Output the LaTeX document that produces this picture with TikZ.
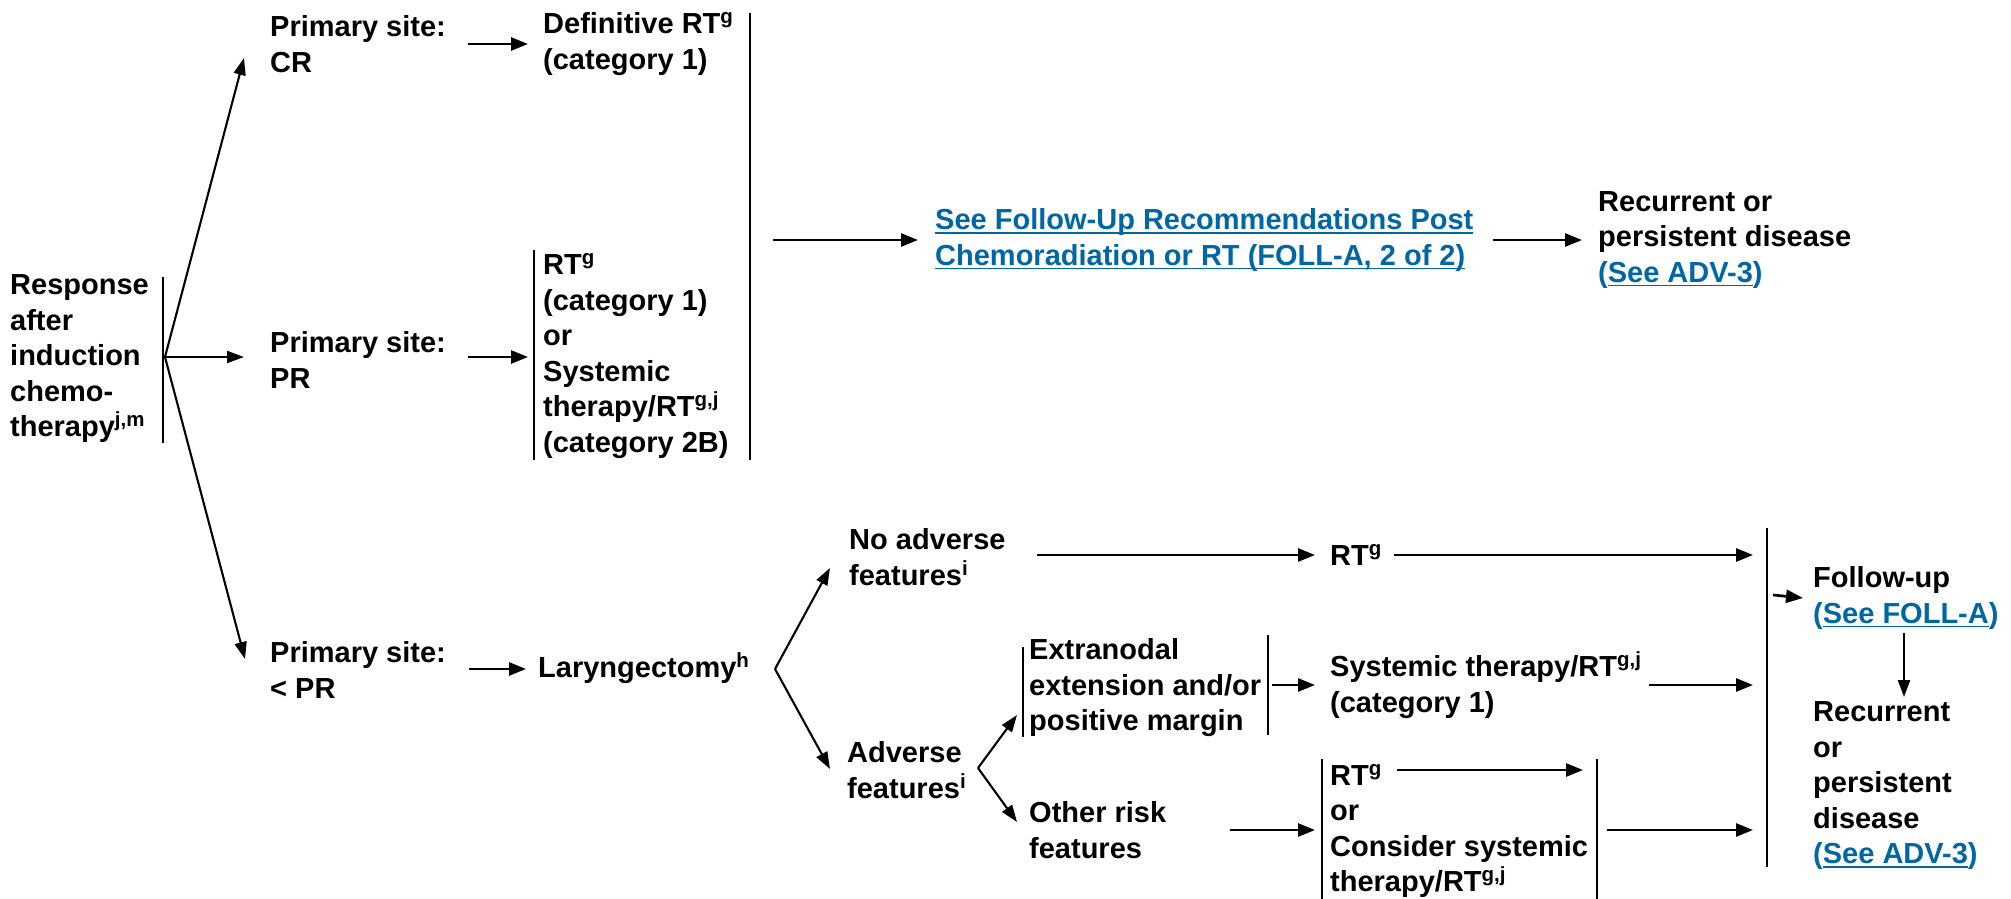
\documentclass[tikz,border=0pt]{standalone}
\usepackage{fontspec}
\setmainfont{Liberation Sans}
\usetikzlibrary{arrows.meta,calc}
\definecolor{linkblue}{RGB}{0,102,164}
% raised footnote letters
\newcommand\sps[1]{\raisebox{10pt}{\fontsize{20.5}{20.5}\selectfont #1}}
% underlined blue reference text
\newcommand\lnk[1]{{\color{linkblue}\setbox0\hbox{#1}\rlap{\rule[-4pt]{\wd0}{1.6pt}}\box0}}

\begin{document}
\begin{tikzpicture}[x=1pt,y=-1pt,
  txt/.style={anchor=west,align=left,inner sep=0pt,
    font=\bfseries\fontsize{29}{35.5}\selectfont},
  arr/.style={line width=2.7pt,-{Triangle[length=17pt,width=13pt]}},
  diag/.style={line width=2.1pt,-{Triangle[length=17pt,width=12pt]}},
  bar/.style={line width=2.4pt}]
\useasboundingbox (0,0) rectangle (2011,899);

% ---- text blocks ----
\node[txt] (resp) at (10,359) {Response\\after\\induction\\chemo-\\therapy\sps{j,m}};
\node[txt] (cr)   at (270,44)  {Primary site:\\CR};
\node[txt] (def)  at (543,44)  {Definitive RT\sps{g}\\(category 1)};
\node[txt] (pr)   at (270,360) {Primary site:\\PR};
\node[txt] (rtpr) at (543,356) {RT\sps{g}\\(category 1)\\or\\Systemic\\therapy/RT\sps{g,j}\\(category 2B)};
\node[txt] (foll) at (935,240) {\lnk{See Follow-Up Recommendations Post}\\\lnk{Chemoradiation or RT (FOLL-A, 2 of 2)}};
\node[txt] (rec1) at (1598,240) {Recurrent or\\persistent disease\\{\color{linkblue}(\lnk{See ADV-3})}};
\node[txt] (lpr)  at (270,670) {Primary site:\\< PR};
\node[txt] (lar)  at (538,668) {Laryngectomy\sps{h}};
\node[txt] (noadv) at (849,557) {No adverse\\features\sps{i}};
\node[txt] (adv)  at (847,770) {Adverse\\features\sps{i}};
\node[txt] (rtg)  at (1330,555) {RT\sps{g}};
\node[txt] (extra) at (1029,688) {Extranodal\\extension and/or\\positive margin};
\node[txt] (sysrt) at (1330,685) {Systemic therapy/RT\sps{g,j}\\(category 1)};
\node[txt] (other) at (1029,830) {Other risk\\features};
\node[txt] (rtor) at (1330,831) {RT\sps{g}\\or\\Consider systemic\\therapy/RT\sps{g,j}};
\node[txt] (fol)  at (1813,598) {Follow-up\\{\color{linkblue}(\lnk{See FOLL-A})}};
\node[txt] (rec2) at (1813,786) {Recurrent\\or\\persistent\\disease\\{\color{linkblue}(\lnk{See ADV-3})}};

% ---- brackets ----
\draw[bar] (163,277) -- (163,443);
\draw[bar] (750,13) -- (750,460);
\draw[bar] (534,250) -- (534,460);
\draw[bar] (1023,647) -- (1023,737);
\draw[bar] (1268,635) -- (1268,735);
\draw[bar] (1322,759) -- (1322,905);
\draw[bar] (1597,759) -- (1597,905);
\draw[bar] (1767,528) -- (1767,867);

% ---- branch points ----
\coordinate (fan)  at (165,357);
\coordinate (crtip) at (244,58);
\coordinate (prtip) at (244,357);
\coordinate (lprtip) at (245,659);
\coordinate (larv) at (775,669);
\coordinate (noadvtip) at (830,568);
\coordinate (advtip) at (830,769);
\coordinate (advv) at (978,768);
\coordinate (extratip) at (1017,715);
\coordinate (othertip) at (1017,822);
\coordinate (rtgout) at (1397,770);
\coordinate (rtgend) at (1583,770);

\draw[diag] (fan) -- (crtip);
\draw[diag] (fan) -- (prtip);
\draw[diag] (fan) -- (lprtip);
\draw[diag] (larv) -- (noadvtip);
\draw[diag] (larv) -- (advtip);
\draw[diag] (advv) -- (extratip);
\draw[diag] (advv) -- (othertip);

% ---- horizontal flow ----
\draw[arr] ([xshift=22pt]cr.east) -- ([xshift=-15pt]def.west);
\draw[arr] (468,357) -- (528,357);
\draw[arr] (773,240) -- ([xshift=-17pt]foll.west);
\draw[arr] ([xshift=19pt]foll.east) -- ([xshift=-16pt]rec1.west);
\draw[arr] (469,669) -- (526,669);
\draw[arr] (1037,555) -- ([xshift=-15pt]rtg.west);
\draw[arr] ([xshift=12pt]rtg.east) -- (1753,555);
\draw[arr] (1272,685) -- ([xshift=-15pt]sysrt.west);
\draw[arr] (1649,685) -- (1753,685);
\draw[arr] (1230,830) -- (1315,830);
\draw[arr] (rtgout) -- (rtgend);
\draw[arr] (1607,830) -- (1753,830);
\draw[arr] (1773,595) -- ([xshift=-10pt]fol.west);
\draw[diag] (1904,633) -- (1904,697);
\end{tikzpicture}
\end{document}
